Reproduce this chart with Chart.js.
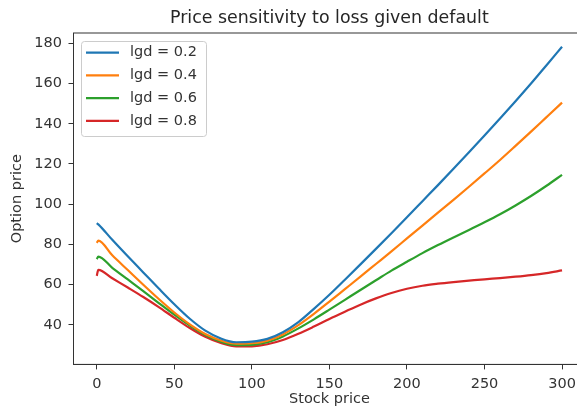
<!DOCTYPE html>
<html><head><meta charset="utf-8">
<script src="https://cdn.jsdelivr.net/npm/chart.js@4/dist/chart.umd.min.js"></script>
<style>
html,body{margin:0;padding:0;overflow:hidden;background:#fff;width:577px;height:415px}
#wrap{position:absolute;left:0;top:0;width:600px;height:415px}
</style>
</head><body><div id="wrap"><canvas id="c" width="600" height="415"></canvas></div>
<script>
const stockPrice = [0,1,10,20,30,40,50,60,70,80,90,100,110,120,130,140,150,160,170,180,190,200,210,220,230,240,250,260,270,280,290,300];
const lgd02 = [90.6,90.0,82.3,74.1,66.1,58.1,50.3,43.1,37.2,33.3,31.4,31.7,33.1,36.4,41.4,48,55,62.5,70.1,77.8,85.6,93.5,101.5,109.5,117.6,125.8,134.1,142.6,151.2,160,169.1,178.3];
const lgd04 = [80.8,81.9,74.6,67.3,60,52.9,46.2,40.3,35.5,32.3,30.7,30.9,32.2,35.3,39.9,45.5,51.6,57.8,64,70.3,76.6,83,89.4,95.8,102.2,108.7,115.3,122,129,136.1,143.3,150.5];
const lgd06 = [72.7,74,68.4,62.6,56.8,50.9,45.1,39.7,35,31.7,30,30.1,31.4,34.3,38.3,42.8,47.6,52.5,57.4,62.2,67,71.4,75.7,79.7,83.5,87.2,91,95,99.4,104.1,109.2,114.6];
const lgd08 = [64.4,67.4,63.2,58.6,53.9,48.9,43.6,38.5,34.1,31,29.3,29.4,30.4,32.5,35.6,39.2,43,46.6,50.1,53.2,55.9,58,59.5,60.5,61.3,62,62.7,63.3,64,64.8,65.8,67.1];
const seriesLabels = ['lgd = 0.2','lgd = 0.4','lgd = 0.6','lgd = 0.8'];
const seriesColors = ['#1f77b4','#ff7f0e','#2ca02c','#d62728'];
const xTicks = [0,50,100,150,200,250,300];
const yTicks = [40,60,80,100,120,140,160,180];
const chartTitle = 'Price sensitivity to loss given default';
const xTitle = 'Stock price';
const yTitle = 'Option price';

const FONT = 'DejaVu Sans';
const TXT = '#333333';
const series = [lgd02, lgd04, lgd06, lgd08];

const framePlugin = {
  id: 'frame',
  afterDatasetsDraw(chart) {
    const {ctx, chartArea: a} = chart;
    ctx.save();
    ctx.strokeStyle = '#333333';
    ctx.lineWidth = 1;
    ctx.strokeRect(a.left, a.top, a.right - a.left, a.bottom - a.top);
    ctx.restore();
    // legend
    const x0 = 81.5, y0 = 41.5, w = 125, h = 95, r = 3;
    ctx.save();
    ctx.beginPath();
    ctx.moveTo(x0 + r, y0);
    ctx.arcTo(x0 + w, y0, x0 + w, y0 + h, r);
    ctx.arcTo(x0 + w, y0 + h, x0, y0 + h, r);
    ctx.arcTo(x0, y0 + h, x0, y0, r);
    ctx.arcTo(x0, y0, x0 + w, y0, r);
    ctx.closePath();
    ctx.fillStyle = 'rgba(255,255,255,0.8)';
    ctx.fill();
    ctx.strokeStyle = '#cccccc';
    ctx.lineWidth = 1;
    ctx.stroke();
    chart.data.datasets.forEach((ds, i) => {
      const yy = 52.7 + i * 22.7;
      ctx.beginPath();
      ctx.moveTo(86, yy);
      ctx.lineTo(119, yy);
      ctx.strokeStyle = ds.borderColor;
      ctx.lineWidth = 2.2;
      ctx.stroke();
      ctx.fillStyle = TXT;
      ctx.font = '14.5px "' + FONT + '"';
      ctx.textBaseline = 'middle';
      ctx.textAlign = 'left';
      ctx.fillText(ds.label, 130, yy);
    });
    ctx.restore();
  },
  afterDraw(chart) {
    const {ctx, chartArea: a} = chart;
    ctx.save();
    ctx.fillStyle = '#262626';
    ctx.font = '17.4px "' + FONT + '"';
    ctx.textAlign = 'center';
    ctx.textBaseline = 'alphabetic';
    ctx.fillText(chartTitle, (a.left + a.right) / 2, 22.7);
    ctx.restore();
  }
};

const axisCommon = {
  type: 'linear',
  grid: {display: true, drawOnChartArea: false, drawTicks: true, tickLength: 5, color: '#333333', tickColor: '#333333', tickWidth: 1},
  border: {display: true, color: '#333333', width: 1},
};

new Chart(document.getElementById('c'), {
  type: 'line',
  data: {
    datasets: series.map((vals, i) => ({
      label: seriesLabels[i],
      data: stockPrice.map((s, j) => ({x: s, y: vals[j]})),
      borderColor: seriesColors[i],
      backgroundColor: seriesColors[i],
      borderWidth: 2.2,
      pointRadius: 0,
      cubicInterpolationMode: 'monotone',
      fill: false
    }))
  },
  options: {
    responsive: false,
    devicePixelRatio: 1,
    animation: false,
    layout: {padding: {left: 0, top: 33, right: 14.7, bottom: 0}},
    plugins: {legend: {display: false}, title: {display: false}, tooltip: {enabled: false}},
    scales: {
      x: Object.assign({}, axisCommon, {
        min: -15, max: 315,
        afterBuildTicks: s => { s.ticks = xTicks.map(v => ({value: v})); },
        afterFit: s => { s.height = 50.6; },
        ticks: {color: TXT, font: {family: FONT, size: 14.5}, padding: 6, maxRotation: 0, autoSkip: false},
        title: {display: true, text: xTitle, color: TXT, font: {family: FONT, size: 14.5}, padding: {top: 0, bottom: 7}}
      }),
      y: Object.assign({}, axisCommon, {
        min: 20.4, max: 185.1,
        afterBuildTicks: s => { s.ticks = yTicks.map(v => ({value: v})); },
        afterFit: s => { s.width = 73.5; },
        ticks: {color: TXT, font: {family: FONT, size: 14.5}, padding: 6.5, autoSkip: false},
        title: {display: true, text: yTitle, color: TXT, font: {family: FONT, size: 14.5}, padding: {top: 9, bottom: 0}}
      })
    }
  },
  plugins: [framePlugin]
});
</script>
</body></html>
